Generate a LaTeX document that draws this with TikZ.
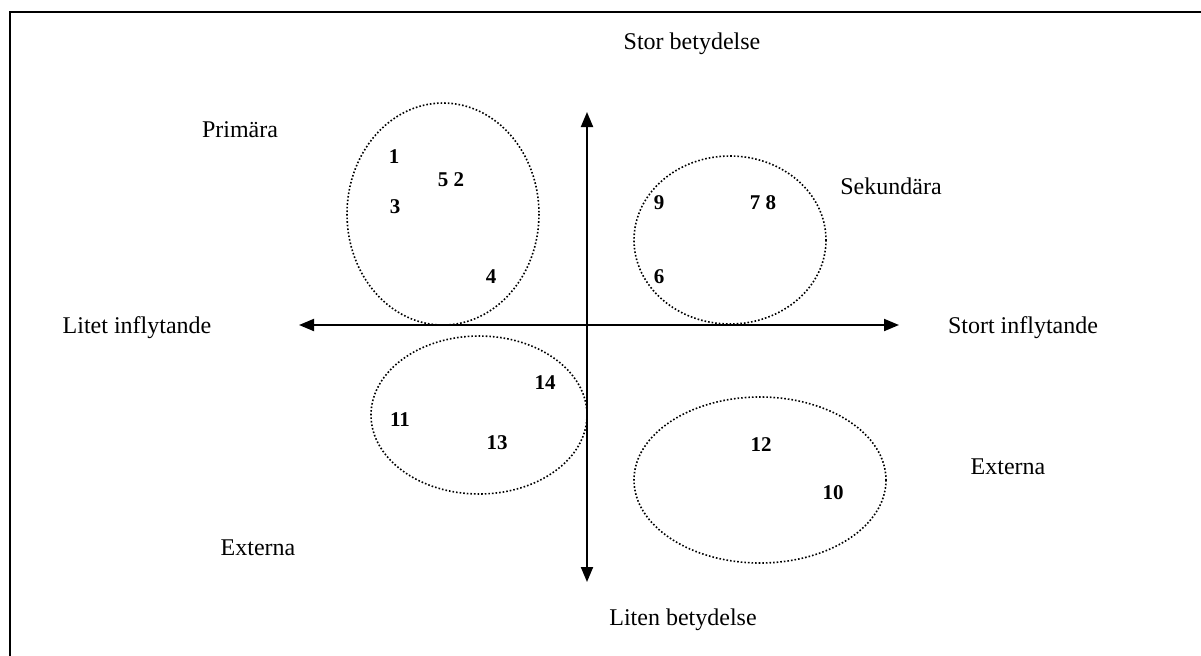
\documentclass[tikz,border=0pt]{standalone}
\usepackage{fontspec}
\setmainfont{Liberation Serif}
\usetikzlibrary{arrows.meta,positioning}

\begin{document}
\begin{tikzpicture}[
  x=0.5pt, y=-0.5pt,
  % -- axlar, grupper och etiketter --
  ax/.style={{Triangle[length=7.5pt,width=6pt]}-{Triangle[length=7.5pt,width=6pt]},
             line width=1pt, black},
  grp/.style={line width=0.8pt, dash pattern=on 0.8pt off 1pt},
  lb/.style={font=\fontsize{12}{14}\selectfont, inner sep=0pt},
  nr/.style={font=\fontsize{10.5}{12}\selectfont\bfseries, inner sep=0pt},
]
\useasboundingbox (0,0) rectangle (1201,655);
\clip (0,0) rectangle (1201,655);
\fill[white] (0,0) rectangle (1201,655);
% ram
\draw[line width=1pt] (10,12) rectangle (1230,690);

% -- axlar --
\coordinate (xL) at (299,325);  \coordinate (xR) at (899,325);
\coordinate (yT) at (587,112);  \coordinate (yB) at (587,582);
\draw[ax] (xL) -- (xR);
\draw[ax] (yB) -- (yT);

% -- axeltexter --
\node[lb] (top)   at (692,44)  {Stor betydelse};
\node[lb] (bot)   at (683,620) {Liten betydelse};
\node[lb] (left)  at (137,328) {Litet inflytande};
\node[lb] (right) at (1023,328) {Stort inflytande};

% -- grupper --
\draw[grp] (443,214) ellipse [x radius=96, y radius=111];
\draw[grp] (730,240) ellipse [x radius=96, y radius=84];
\draw[grp] (479,415) ellipse [x radius=108, y radius=79];
\draw[grp] (760,480) ellipse [x radius=126, y radius=83];

\node[lb] (prim) at (240,130) {Primära};
\node[lb] (sek)  at (891,186) {Sekundära};
\node[lb] (extL) at (258,548) {Externa};
\node[lb] (extR) at (1008,467) {Externa};

% -- intressenter --
\node[nr] (n1)  at (394,157) {1};
\node[nr] (n52) at (451,180) {5 2};
\node[nr] (n3)  at (395,207) {3};
\node[nr] (n4)  at (491,277) {4};
\node[nr] (n9)  at (659,203) {9};
\node[nr] (n78) at (763,203) {7 8};
\node[nr] (n6)  at (659,277) {6};
\node[nr] (n14) at (545,383) {14};
\node[nr] (n11) at (400,420) {11};
\node[nr] (n13) at (497,443) {13};
\node[nr] (n12) at (761,445) {12};
\node[nr] (n10) at (833,493) {10};
\end{tikzpicture}
\end{document}
